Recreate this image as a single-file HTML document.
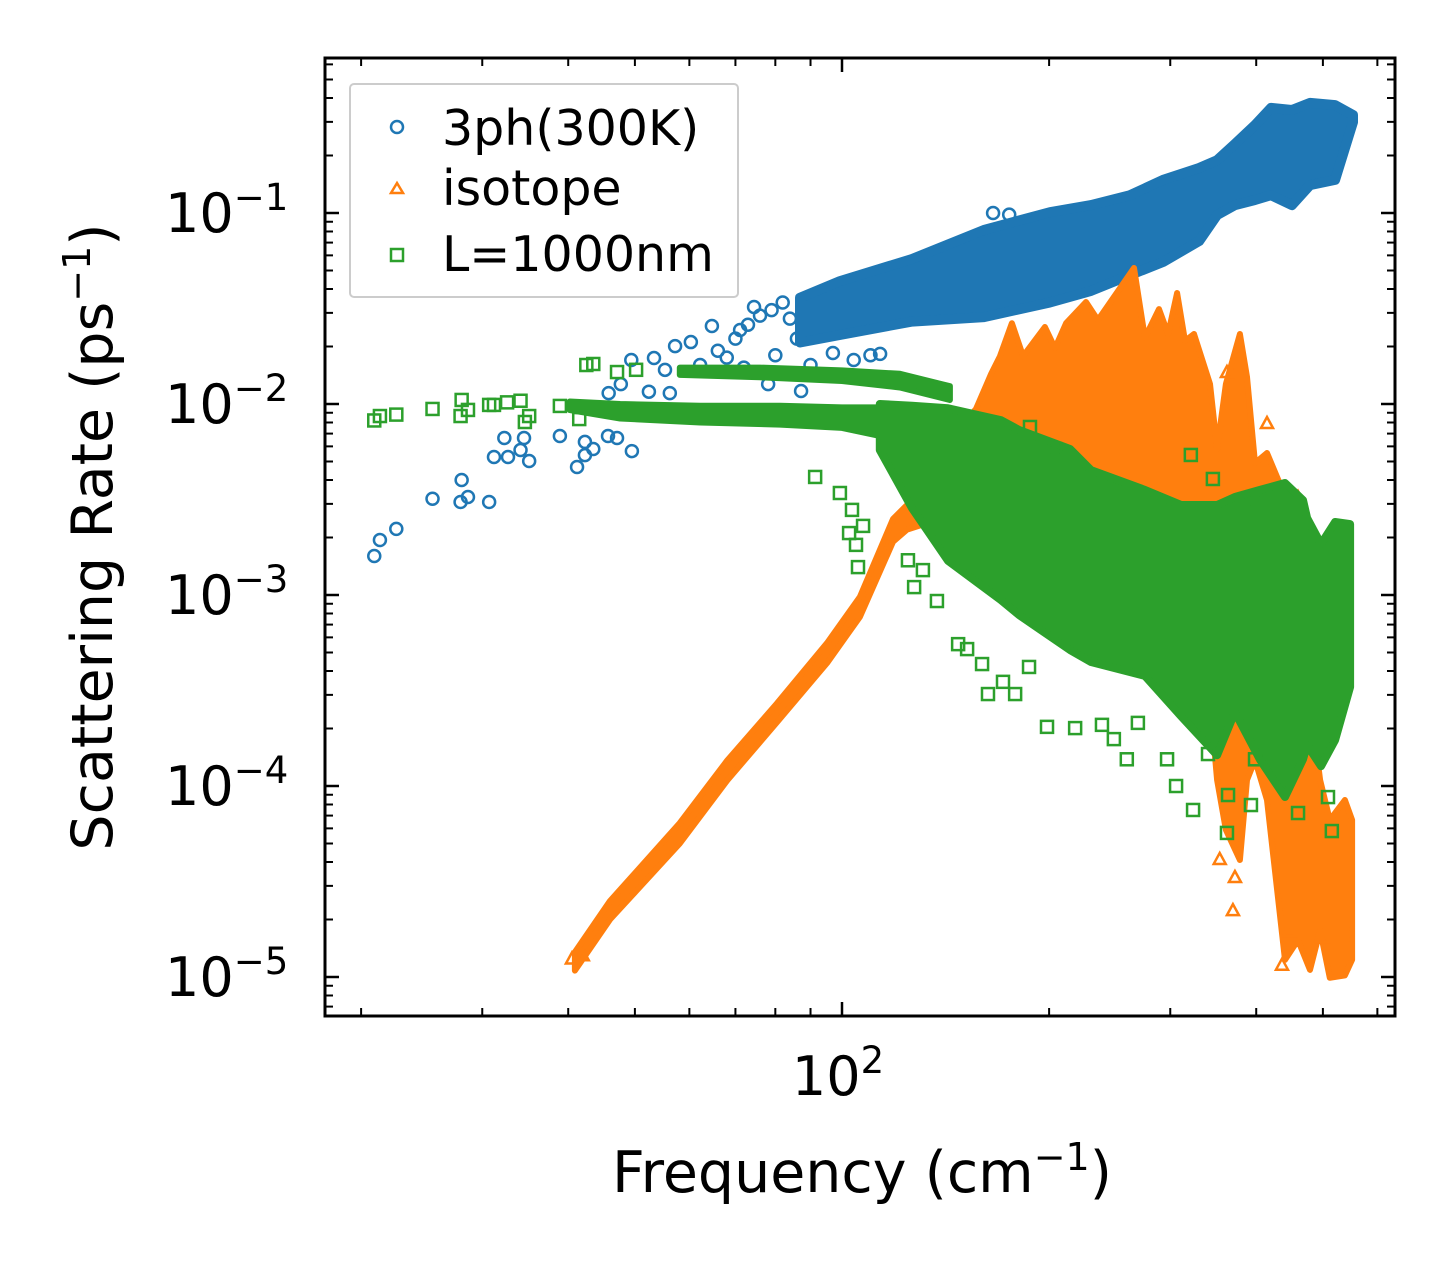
<!DOCTYPE html>
<html><head><meta charset="utf-8"><style>
html,body{margin:0;padding:0;background:#fff;}
svg{display:block;font-family:"DejaVu Sans","Liberation Sans",sans-serif;}
</style></head><body>
<svg id="chart" width="1455" height="1265" viewBox="0 0 1455 1265" xmlns="http://www.w3.org/2000/svg">
<defs><clipPath id="plotclip"><rect x="325" y="58" width="1070" height="958"/></clipPath></defs>
<rect x="0" y="0" width="1455" height="1265" fill="#fff"/>
<g id="bands" clip-path="url(#plotclip)"></g>
<g id="axes"></g>
<g id="legend">
  <rect x="350" y="84" width="388" height="213" rx="4" fill="#fff" fill-opacity="0.8" stroke="#ccc" stroke-width="2"/>
  <g>
    <circle cx="397" cy="127" r="6" fill="none" stroke="#1f77b4" stroke-width="2.5"/>
    <text x="442" y="145" font-size="49" fill="#000">3ph(300K)</text>
  </g>
  <g>
    <polygon points="397,183 403,193 391,193" fill="none" stroke="#ff7f0e" stroke-width="2.5"/>
    <text x="442" y="205" font-size="49" fill="#000">isotope</text>
  </g>
  <g>
    <rect x="391" y="249" width="12" height="12" fill="none" stroke="#2ca02c" stroke-width="2.5"/>
    <text x="442" y="271" font-size="49" fill="#000">L=1000nm</text>
  </g>
</g>
<text x="862" y="1192" font-size="57" text-anchor="middle">Frequency (cm<tspan dy="-22" font-size="38">−1</tspan><tspan dy="22">)</tspan></text>
<text transform="translate(112,537) rotate(-90)" font-size="57" text-anchor="middle">Scattering Rate (ps<tspan dy="-22" font-size="38">−1</tspan><tspan dy="22">)</tspan></text>
</svg>
<script>
// ---- data (frequency cm^-1, rate ps^-1) ----
const bandBlueF  = [86.9,99.3,126.4,160.8,200.6,230.1,262.2,292.8,330.4,350.9,372.5,398.4,420.3,450.8,478.9,520.9,553.1];
const bandBlueHi = [0.036,0.044,0.0574,0.0815,0.101,0.110,0.124,0.149,0.172,0.189,0.230,0.289,0.355,0.346,0.377,0.367,0.326];
const bandBlueLo = [0.021,0.023,0.027,0.0285,0.034,0.0391,0.0473,0.0554,0.0713,0.0976,0.110,0.117,0.124,0.110,0.140,0.149,0.299];
const ptsBlueF = [20.9,21.3,22.5,25.4,27.9,28.6,28.0,30.7,31.2,32.7,32.3,34.5,34.1,35.1,38.9,41.2,42.3,42.3,43.5,45.7,47.1,49.5,45.8,47.7,49.4,53.3,55.3,56.2,57.2,52.4,60.3,64.7,74.5,78.1,87.2,113.6,62.2,71.1,165.8,175,66,70,73,76,79,82,84,88,92,95,68,72,80,86,90,97,104,110];
const ptsBlueV = [1.6e-3,1.94e-3,2.22e-3,3.19e-3,3.07e-3,3.26e-3,4.0e-3,3.07e-3,5.28e-3,5.28e-3,6.64e-3,6.64e-3,5.74e-3,5.03e-3,6.8e-3,4.68e-3,5.4e-3,6.33e-3,5.81e-3,6.8e-3,6.64e-3,5.67e-3,1.14e-2,1.27e-2,1.70e-2,1.74e-2,1.51e-2,1.14e-2,2.01e-2,1.16e-2,2.11e-2,2.56e-2,3.22e-2,1.27e-2,1.17e-2,1.83e-2,1.6e-2,2.44e-2,0.100,0.098,1.9e-2,2.2e-2,2.6e-2,2.9e-2,3.1e-2,3.4e-2,2.8e-2,3.0e-2,3.3e-2,3.6e-2,1.75e-2,1.55e-2,1.8e-2,2.2e-2,1.6e-2,1.85e-2,1.7e-2,1.8e-2];
const bandOrangeF  = [40.9,46.0,58.1,68.1,80.4,95.1,106.2,118.6,124.3,138.8,156.6,164.7,169.7,176.6,183.3,197.2,204,211.7,226.3,235.5,265.7,275.6,288.9,297.8,306.9,315.2,324.8,342.7,350.9,361.4,378.8,387.9,398.4,414.7,440.5,460.1,478.9,495.4,511.7,538.3,551.3];
const bandOrangeHi = [1.35e-5,2.5e-5,6.4e-5,1.36e-4,2.7e-4,5.6e-4,9.8e-4,2.5e-3,2.96e-3,5.74e-3,9.42e-3,1.435e-2,1.78e-2,2.65e-2,1.78e-2,2.53e-2,1.96e-2,2.65e-2,3.42e-2,2.75e-2,5.15e-2,2.22e-2,3.14e-2,2.325e-2,3.81e-2,2.14e-2,2.325e-2,1.273e-2,5.81e-3,1.273e-2,2.325e-2,1.385e-2,4.91e-3,5.54e-3,3.3e-3,2.06e-3,2.82e-4,1.075e-4,6.64e-5,8.45e-5,6.64e-5];
const bandOrangeLo = [1.08e-5,2.0e-5,5.0e-5,1.07e-4,2.15e-4,4.4e-4,7.7e-4,1.9e-3,2.2e-3,2.5e-3,2.5e-3,2.2e-3,2.0e-3,1.8e-3,1.6e-3,1.4e-3,1.3e-3,1.2e-3,1.1e-3,1.0e-3,9e-4,8e-4,7.4e-4,7.4e-4,5.81e-4,5.15e-4,4.57e-4,2.82e-4,1.075e-4,5.89e-5,4.1e-5,1.075e-4,1.37e-4,8.45e-5,1.23e-5,1.56e-5,1.09e-5,1.76e-5,9.9e-6,1.02e-5,1.23e-5];
const ptsOrangeF = [372.5,354,446.7,500,362.7,414.7,460.1,460.1,370,436,40.5,42];
const ptsOrangeV = [3.34e-5,4.15e-5,1.74e-5,1.62e-5,1.47e-2,7.95e-3,3.26e-3,2.06e-3,2.24e-5,1.16e-5,1.25e-5,1.3e-5];
const bandGreenAF  = [40.2,47.6,62.2,81.3,100,113.5];
const bandGreenAHi = [1.03e-2,1.0e-2,9.8e-3,9.8e-3,9.6e-3,9.6e-3];
const bandGreenALo = [9.3e-3,8.4e-3,8.0e-3,7.8e-3,7.5e-3,6.8e-3];
const bandGreenBF  = [58.1,76.0,100,121.4,143.5];
const bandGreenBHi = [1.55e-2,1.55e-2,1.5e-2,1.44e-2,1.24e-2];
const bandGreenBLo = [1.42e-2,1.38e-2,1.32e-2,1.22e-2,1.05e-2];
const bandGreenCF  = [113.5,126.4,142.6,170.2,180.9,214.5,230.1,275.6,311,350.9,372.5,405.2,440.5,467.8,474.2,496.9,520.9,547.6];
const bandGreenCHi = [1.0e-2,9.8e-3,9.5e-3,8.24e-3,7.31e-3,5.81e-3,4.51e-3,3.55e-3,2.96e-3,2.96e-3,3.26e-3,3.55e-3,3.86e-3,3.14e-3,2.53e-3,1.85e-3,2.41e-3,2.35e-3];
const bandGreenCLo = [5.74e-3,2.85e-3,1.51e-3,9.42e-4,7.85e-4,5.15e-4,4.46e-4,3.77e-4,2.32e-4,1.45e-4,2.44e-4,1.37e-4,8.76e-5,1.38e-4,1.64e-4,1.27e-4,1.74e-4,3.3e-4];
const ptsGreenF = [20.9,21.3,22.5,25.4,28.0,27.9,28.6,30.7,31.2,32.6,34.1,34.6,35.1,38.9,41.5,42.5,43.5,47.1,50.2,91.4,99.3,103.4,102.4,107.3,105.5,104.8,124.7,131.1,127.3,137.4,147.5,152,159.8,163,178.5,171.4,187,198.6,218.2,238.7,248.4,259.4,296.8,305.9,323.8,364,393,362.7,460.1,515.2,508.6,269.2,340.4,398.4,187.6,321.4,398.4,346,204];
const ptsGreenV = [8.2e-3,8.65e-3,8.8e-3,9.42e-3,1.05e-2,8.65e-3,9.31e-3,9.89e-3,9.89e-3,1.02e-2,1.04e-2,8.05e-3,8.65e-3,9.77e-3,8.34e-3,1.60e-2,1.62e-2,1.47e-2,1.51e-2,4.15e-3,3.42e-3,2.79e-3,2.11e-3,2.30e-3,1.40e-3,1.83e-3,1.52e-3,1.35e-3,1.10e-3,9.3e-4,5.53e-4,5.21e-4,4.35e-4,3.03e-4,3.03e-4,3.51e-4,4.2e-4,2.04e-4,2.01e-4,2.09e-4,1.76e-4,1.38e-4,1.38e-4,1.0e-4,7.49e-5,8.97e-5,7.95e-5,5.68e-5,7.22e-5,5.81e-5,8.75e-5,2.14e-4,1.47e-4,1.38e-4,7.58e-3,5.41e-3,3.10e-3,4.05e-3,5.81e-3];
const xMajorTicks = [100];
const xMinorTicks = [20,30,40,50,60,70,80,90,200,300,400,500,600];
const yMajorTicks = [1e-1,1e-2,1e-3,1e-4,1e-5];
const yMajorExp = ["−1","−2","−3","−4","−5"];

function X(f){ return 842 + 688*Math.log10(f/100); }
function Y(v){ return 213 + 191*(-1 - Math.log10(v)); }

const NS = "http://www.w3.org/2000/svg";
const bands = document.getElementById('bands');
const axes = document.getElementById('axes');
const COL = {blue:'#1f77b4', orange:'#ff7f0e', green:'#2ca02c'};

function band(F, Hi, Lo, color, name, sw){
  let pts = [];
  for (let i=0;i<F.length;i++) pts.push(X(F[i]).toFixed(1)+','+Y(Hi[i]).toFixed(1));
  for (let i=F.length-1;i>=0;i--) pts.push(X(F[i]).toFixed(1)+','+Y(Lo[i]).toFixed(1));
  const p = document.createElementNS(NS,'polygon');
  p.setAttribute('points', pts.join(' '));
  p.setAttribute('fill', color);
  p.setAttribute('stroke', color);
  p.setAttribute('stroke-width', sw);
  p.setAttribute('stroke-linejoin', 'round');
  
  
  bands.appendChild(p);
}
function points(F, V, shape, color, name){
  const g = document.createElementNS(NS,'g');
  
  
  for (let i=0;i<F.length;i++){
    const x = X(F[i]), y = Y(V[i]);
    let el;
    if (shape==='circle'){
      el = document.createElementNS(NS,'circle');
      el.setAttribute('cx',x); el.setAttribute('cy',y); el.setAttribute('r',6);
    } else if (shape==='square'){
      el = document.createElementNS(NS,'rect');
      el.setAttribute('x',x-6); el.setAttribute('y',y-6); el.setAttribute('width',12); el.setAttribute('height',12);
    } else {
      el = document.createElementNS(NS,'polygon');
      el.setAttribute('points', x+','+(y-6)+' '+(x+6)+','+(y+5)+' '+(x-6)+','+(y+5));
    }
    el.setAttribute('fill','none');
    el.setAttribute('stroke',color);
    el.setAttribute('stroke-width','2.5');
    
    
    g.appendChild(el);
  }
  bands.appendChild(g);
}

points(ptsBlueF, ptsBlueV, 'circle', COL.blue, 'series-3ph');
band(bandBlueF, bandBlueHi, bandBlueLo, COL.blue, 'series-3ph-dense', 10);
band(bandOrangeF, bandOrangeHi, bandOrangeLo, COL.orange, 'series-isotope-dense', 6);
points(ptsOrangeF, ptsOrangeV, 'triangle', COL.orange, 'series-isotope');
band(bandGreenAF, bandGreenAHi, bandGreenALo, COL.green, 'series-boundary-main', 6);
band(bandGreenBF, bandGreenBHi, bandGreenBLo, COL.green, 'series-boundary-upper', 6);
band(bandGreenCF, bandGreenCHi, bandGreenCLo, COL.green, 'series-boundary-spread', 8);
points(ptsGreenF, ptsGreenV, 'square', COL.green, 'series-boundary');

const L=325, R=1395, T=58, B=1016;
function line(x1,y1,x2,y2,w,name){
  const l = document.createElementNS(NS,'line');
  l.setAttribute('x1',x1); l.setAttribute('y1',y1); l.setAttribute('x2',x2); l.setAttribute('y2',y2);
  l.setAttribute('stroke','#000'); l.setAttribute('stroke-width',w);
  
  
  axes.appendChild(l);
}
function text(x,y,base,exp,anchor,name){
  const t = document.createElementNS(NS,'text');
  t.setAttribute('x',x); t.setAttribute('y',y); t.setAttribute('font-size','54'); t.setAttribute('text-anchor',anchor);
  
  
  t.textContent = base;
  const s = document.createElementNS(NS,'tspan');
  s.setAttribute('dy','-22'); s.setAttribute('font-size','37');
  s.textContent = exp;
  t.appendChild(s);
  axes.appendChild(t);
}
xMajorTicks.forEach(f=>{
  const x=X(f);
  line(x,B,x,B-14,2.5,'x-major-tick');
  line(x,T,x,T+14,2.5,'x-major-tick-top');
  text(x-4,1095,'10','2','middle','x-tick-label');
});
xMinorTicks.forEach(f=>{
  const x=X(f);
  if (x>L && x<R){
    line(x,B,x,B-8,2,'x-minor-tick');
    line(x,T,x,T+8,2,'x-minor-tick-top');
  }
});
for (let d=-6; d<=0; d++){
  for (let m=1; m<=9; m++){
    const v = m*Math.pow(10,d);
    const y = Y(v);
    if (y<=T || y>=B) continue;
    const len = m===1?14:8, w = m===1?2.5:2;
    line(L,y,L+len,y,w, m===1?'y-major-tick':'y-minor-tick');
    line(R,y,R-len,y,w, m===1?'y-major-tick-right':'y-minor-tick-right');
  }
}
yMajorTicks.forEach((v,i)=>{
  text(165,Y(v)+19,'10',yMajorExp[i],'start','y-tick-label');
});
const frame = document.createElementNS(NS,'rect');
frame.setAttribute('x',L); frame.setAttribute('y',T); frame.setAttribute('width',R-L); frame.setAttribute('height',B-T);
frame.setAttribute('fill','none'); frame.setAttribute('stroke','#000'); frame.setAttribute('stroke-width','3');


axes.appendChild(frame);
</script>
</body></html>
